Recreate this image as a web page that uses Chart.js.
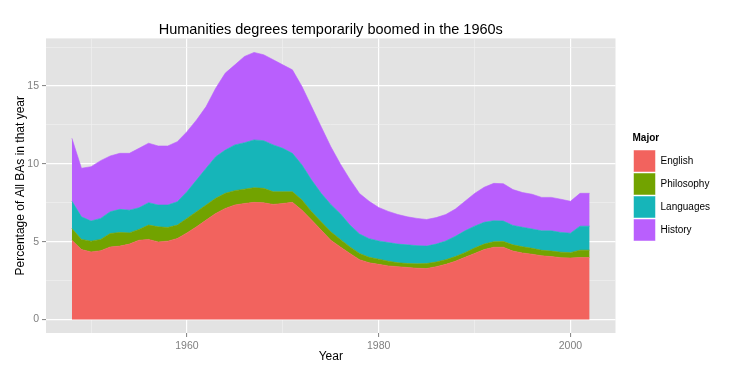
<!DOCTYPE html>
<html>
<head>
<meta charset="utf-8">
<script src="https://cdn.jsdelivr.net/npm/chart.js@4"></script>
<style>
  html, body { margin: 0; padding: 0; background: #ffffff; }
</style>
</head>
<body>
<canvas id="chart" width="742" height="375"></canvas>
<script>
// Años y porcentajes
const years = [1948, 1949, 1950, 1951, 1952, 1953, 1954, 1955, 1956, 1957,
    1958, 1959, 1960, 1961, 1962, 1963, 1964, 1965, 1966, 1967,
    1968, 1969, 1970, 1971, 1972, 1973, 1974, 1975, 1976, 1977,
    1978, 1979, 1980, 1981, 1982, 1983, 1984, 1985, 1986, 1987,
    1988, 1989, 1990, 1991, 1992, 1993, 1994, 1995, 1996, 1997,
    1998, 1999, 2000, 2001, 2002];

const english = [5.10, 4.50, 4.35, 4.42, 4.67, 4.72, 4.85, 5.10, 5.15, 4.99,
    5.04, 5.21, 5.57, 5.96, 6.39, 6.82, 7.14, 7.36, 7.46, 7.53,
    7.50, 7.40, 7.46, 7.53, 7.03, 6.39, 5.75, 5.10, 4.67, 4.25,
    3.85, 3.65, 3.55, 3.45, 3.40, 3.35, 3.30, 3.28, 3.40, 3.55,
    3.75, 4.00, 4.25, 4.50, 4.65, 4.65, 4.40, 4.28, 4.20, 4.10,
    4.05, 3.98, 3.96, 3.99, 3.99];

const philosophy = [0.75, 0.65, 0.69, 0.73, 0.86, 0.88, 0.72, 0.69, 0.92, 0.97,
    0.88, 0.86, 0.93, 0.97, 0.97, 0.97, 0.97, 0.92, 0.92, 0.94,
    0.93, 0.81, 0.75, 0.68, 0.65, 0.54, 0.53, 0.54, 0.48, 0.42,
    0.40, 0.35, 0.33, 0.30, 0.25, 0.25, 0.28, 0.32, 0.30, 0.30,
    0.30, 0.30, 0.35, 0.35, 0.35, 0.37, 0.40, 0.40, 0.38, 0.35,
    0.35, 0.35, 0.34, 0.47, 0.47];

const languages = [1.76, 1.45, 1.29, 1.35, 1.40, 1.48, 1.46, 1.39, 1.44, 1.40,
    1.44, 1.50, 1.71, 2.03, 2.36, 2.67, 2.78, 2.94, 2.98, 3.07,
    3.06, 3.01, 2.79, 2.47, 2.25, 2.03, 1.83, 1.76, 1.65, 1.40,
    1.25, 1.20, 1.17, 1.20, 1.20, 1.20, 1.17, 1.12, 1.15, 1.20,
    1.30, 1.40, 1.40, 1.40, 1.35, 1.31, 1.25, 1.25, 1.24, 1.25,
    1.30, 1.27, 1.25, 1.54, 1.54];

const history = [4.04, 3.12, 3.49, 3.71, 3.58, 3.60, 3.65, 3.82, 3.82, 3.79,
    3.79, 3.86, 3.86, 3.86, 3.96, 4.40, 4.94, 5.14, 5.54, 5.62,
    5.52, 5.47, 5.36, 5.36, 5.04, 4.72, 4.28, 3.71, 3.20, 2.93,
    2.60, 2.40, 2.15, 2.00, 1.90, 1.80, 1.75, 1.71, 1.70, 1.70,
    1.75, 1.90, 2.10, 2.25, 2.40, 2.40, 2.30, 2.23, 2.23, 2.15,
    2.15, 2.13, 2.05, 2.11, 2.11];

// Ticks: principales (con etiqueta) y secundarios (solo rejilla)
const xMajorTicks = [1960, 1980, 2000];
const xMinorTicks = [1950, 1970, 1990];
const yMajorTicks = [0, 5, 10, 15];
const yMinorTicks = [2.5, 7.5, 12.5, 17.5];

const FONT = "'Liberation Sans', Arial, Helvetica, sans-serif";

function toPoints(values) {
    return years.map((yr, i) => ({ x: yr, y: values[i] }));
}

function makeDataset(label, values, color, fill) {
    return {
        label: label,
        data: toPoints(values),
        backgroundColor: color,
        borderColor: color,
        borderWidth: 0.6,
        pointRadius: 0,
        tension: 0,
        fill: fill
    };
}

// Fondo gris del panel (estilo ggplot)
const panelBackground = {
    id: "panelBackground",
    beforeDraw(chart) {
        const { ctx, chartArea } = chart;
        ctx.save();
        ctx.fillStyle = "#E3E3E3";
        ctx.fillRect(chartArea.left, chartArea.top, chartArea.right - chartArea.left, chartArea.bottom - chartArea.top);
        ctx.restore();
    }
};

function gridScale(majors, minors) {
    return {
        afterBuildTicks: (scale) => {
            scale.ticks = majors.concat(minors).sort((a, b) => a - b).map(v => ({ value: v }));
        },
        grid: {
            color: (c) => majors.includes(c.tick.value) ? "#FFFFFF" : "#F2F2F2",
            lineWidth: (c) => majors.includes(c.tick.value) ? 1.2 : 0.6,
            tickColor: (c) => majors.includes(c.tick.value) ? "#7F7F7F" : "rgba(0,0,0,0)",
            tickLength: 4,
            tickWidth: 1
        },
        border: { display: false },
        ticks: {
            autoSkip: false,
            maxRotation: 0,
            padding: 3,
            color: "#7F7F7F",
            font: { family: FONT, size: 10.5 },
            callback: (v) => majors.includes(v) ? String(v) : ""
        }
    };
}

const xScale = gridScale(xMajorTicks, xMinorTicks);
Object.assign(xScale, {
    type: "linear",
    min: 1945.3,
    max: 2004.7,
    afterFit: (scale) => { scale.height = 42; },
    title: {
        display: true,
        text: "Year",
        color: "#000000",
        font: { family: FONT, size: 12 },
        padding: { top: 0, bottom: 11 }
    }
});

const yScale = gridScale(yMajorTicks, yMinorTicks);
Object.assign(yScale, {
    stacked: true,
    min: -0.86,
    max: 18.06,
    afterFit: (scale) => { scale.width = 46; },
    title: {
        display: true,
        text: "Percentage of All BAs in that year",
        color: "#000000",
        font: { family: FONT, size: 12 },
        padding: { top: 13, bottom: 0 }
    }
});

// Hueco entre el panel y la leyenda
const spacerScale = {
    type: "linear",
    position: "right",
    display: true,
    grid: { display: false },
    border: { display: false },
    ticks: { display: false },
    afterFit: (scale) => { scale.width = 17; }
};

const ctx = document.getElementById("chart").getContext("2d");

const chart = new Chart(ctx, {
    type: "line",
    data: {
        datasets: [
            makeDataset("English", english, "#F2635E", "origin"),
            makeDataset("Philosophy", philosophy, "#72A300", "-1"),
            makeDataset("Languages", languages, "#16B5B9", "-1"),
            makeDataset("History", history, "#B95FFD", "-1")
        ]
    },
    options: {
        responsive: false,
        animation: false,
        layout: { padding: { left: 0, right: 22, top: 0, bottom: 0 } },
        scales: {
            x: xScale,
            y: yScale,
            spacer: spacerScale
        },
        plugins: {
            title: {
                display: true,
                fullSize: false,
                text: "Humanities degrees temporarily boomed in the 1960s",
                color: "#000000",
                font: { family: FONT, size: 14.5, weight: "normal" },
                padding: { top: 21, bottom: 0 }
            },
            legend: {
                position: "right",
                align: "center",
                title: {
                    display: true,
                    text: "Major",
                    position: "start",
                    color: "#000000",
                    font: { family: FONT, size: 10, weight: "bold" },
                    padding: { top: 0, bottom: 4 }
                },
                labels: {
                    boxWidth: 22,
                    boxHeight: 22,
                    padding: 1,
                    color: "#000000",
                    font: { family: FONT, size: 10 },
                    generateLabels: (c) => {
                        const items = Chart.defaults.plugins.legend.labels.generateLabels(c);
                        items.forEach(item => {
                            item.strokeStyle = "#FFFFFF";
                            item.lineWidth = 0.5;
                        });
                        return items;
                    }
                }
            },
            tooltip: { enabled: false }
        }
    },
    plugins: [panelBackground]
});
</script>
</body>
</html>
